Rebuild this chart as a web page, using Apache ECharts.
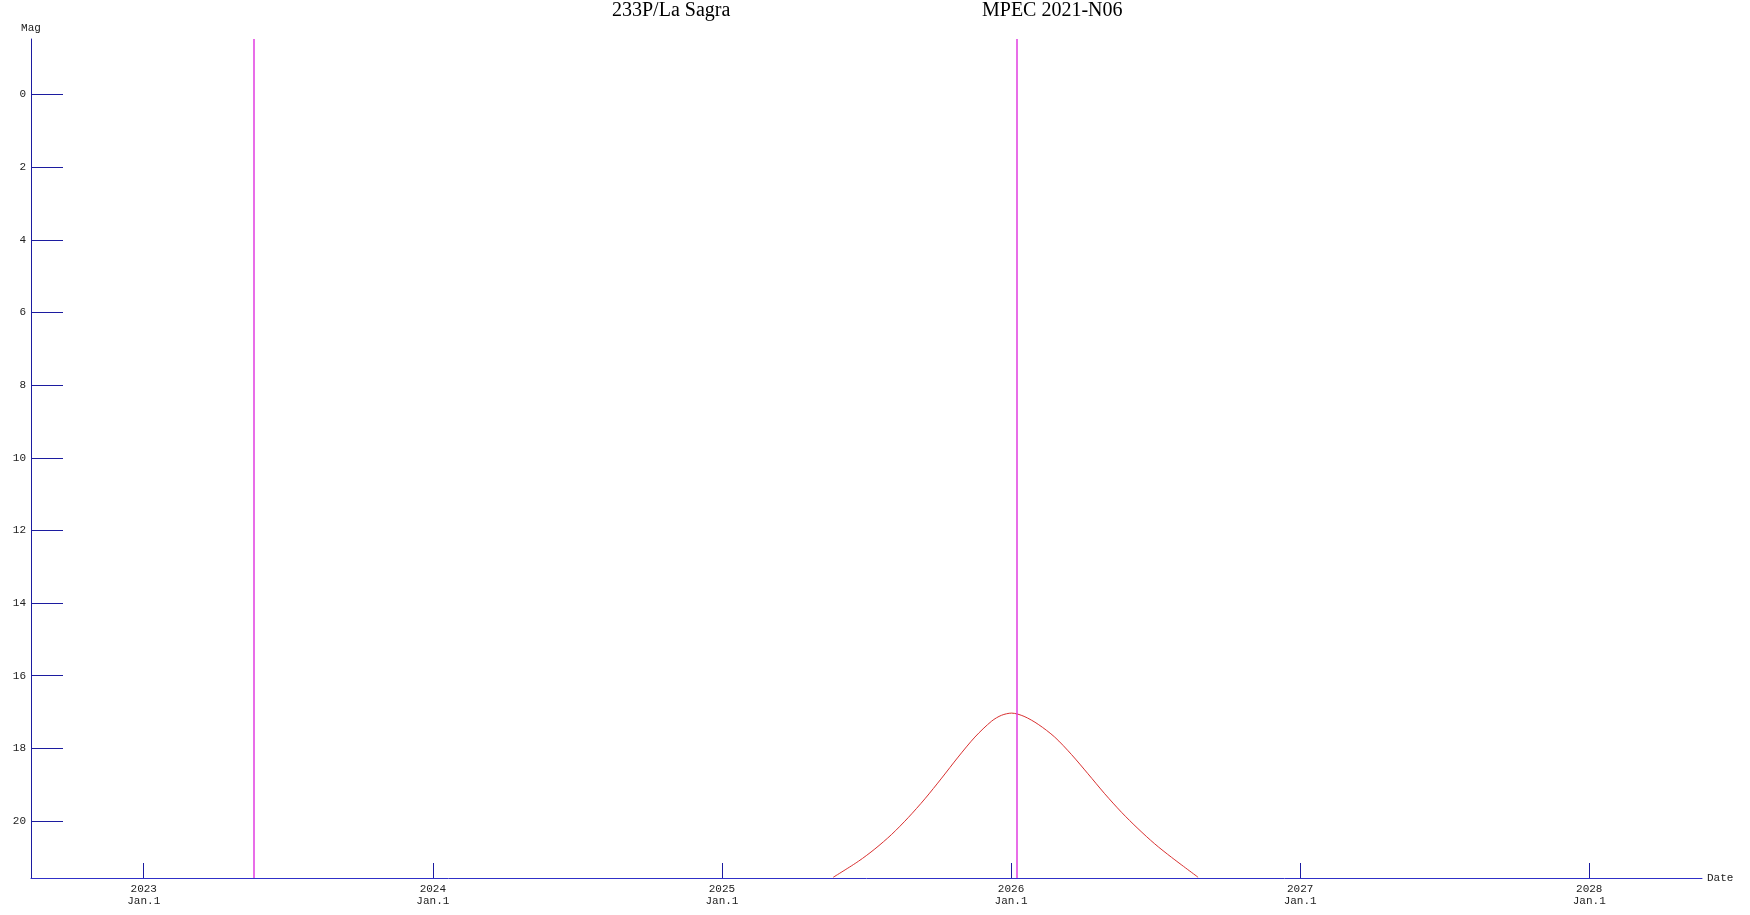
<!DOCTYPE html>
<html>
<head>
<meta charset="utf-8">
<title>233P/La Sagra</title>
<script src="https://cdn.jsdelivr.net/npm/echarts@6/dist/echarts.min.js"></script>
<style>
    html, body { margin: 0; padding: 0; background: #fff; }
    #chart { width: 1750px; height: 915px; }
</style>
</head>
<body>
<div id="chart"></div>
<script>
    // magnitude curve, x in decimal years
    const curveYears = [2025.385, 2025.472, 2025.529, 2025.587, 2025.644, 2025.702, 2025.760, 2025.817,
        2025.875, 2025.933, 2025.967, 2026.002, 2026.045, 2026.094, 2026.151, 2026.209, 2026.266,
        2026.324, 2026.382, 2026.439, 2026.497, 2026.555, 2026.647];
    const curveMags = [21.55, 21.11, 20.77, 20.37, 19.91, 19.39, 18.82, 18.24,
        17.69, 17.25, 17.09, 17.03, 17.12, 17.34, 17.69, 18.17, 18.70,
        19.25, 19.76, 20.21, 20.63, 21.00, 21.55];
    // vertical magenta markers
    const markerYears = [2023.385, 2026.021];
    // axis ticks
    const yearTicks = [2023, 2024, 2025, 2026, 2027, 2028];
    const magTicks = [0, 2, 4, 6, 8, 10, 12, 14, 16, 18, 20];
    const titles = ['233P/La Sagra', 'MPEC 2021-N06'];

    const mono = 'Liberation Mono';
    const titleFont = { fontFamily: 'Liberation Serif', fontSize: 20, fontWeight: 'normal', color: '#000' };
    const chart = echarts.init(document.getElementById('chart'));
    chart.setOption({
        animation: false,
        backgroundColor: '#FFFFFF',
        title: [
            { text: titles[0], left: 607, top: -4, textStyle: titleFont },
            { text: titles[1], left: 977, top: -4, textStyle: titleFont }
        ],
        grid: { left: 31, top: 39, right: 48, bottom: 37, containLabel: false },
        xAxis: {
            type: 'value',
            min: 2022.61,
            max: 2028.39,
            name: 'Date',
            nameLocation: 'end',
            nameGap: 5,
            nameTextStyle: { fontFamily: mono, fontSize: 11, color: '#222', verticalAlign: 'middle' },
            splitLine: { show: false },
            axisLine: { onZero: false, lineStyle: { color: '#3030c8', width: 1 } },
            axisTick: { inside: true, length: 15, customValues: yearTicks, lineStyle: { color: '#1c1ca0' } },
            axisLabel: {
                customValues: yearTicks,
                margin: 5,
                fontFamily: mono,
                fontSize: 11,
                lineHeight: 12,
                color: '#222',
                formatter: v => v + '\nJan.1'
            }
        },
        yAxis: {
            type: 'value',
            inverse: true,
            min: -1.53,
            max: 21.57,
            name: 'Mag',
            nameLocation: 'start',
            nameGap: 5,
            nameTextStyle: { fontFamily: mono, fontSize: 11, color: '#222', align: 'center' },
            splitLine: { show: false },
            axisLine: { show: true, onZero: false, lineStyle: { color: '#1c1ca0', width: 1 } },
            axisTick: { inside: true, length: 32, customValues: magTicks, lineStyle: { color: '#1c1ca0' } },
            axisLabel: { customValues: magTicks, margin: 5, fontFamily: mono, fontSize: 11, color: '#222' }
        },
        series: [
            {
                type: 'line',
                data: curveYears.map((y, i) => [y, curveMags[i]]),
                smooth: 0.3,
                showSymbol: false,
                clip: true,
                lineStyle: { color: '#d83030', width: 1 },
                markLine: {
                    silent: true,
                    symbol: 'none',
                    label: { show: false },
                    lineStyle: { color: '#e03ce0', width: 1.5, type: 'solid' },
                    data: markerYears.map(v => ({ xAxis: v }))
                }
            }
        ]
    });
</script>
</body>
</html>
